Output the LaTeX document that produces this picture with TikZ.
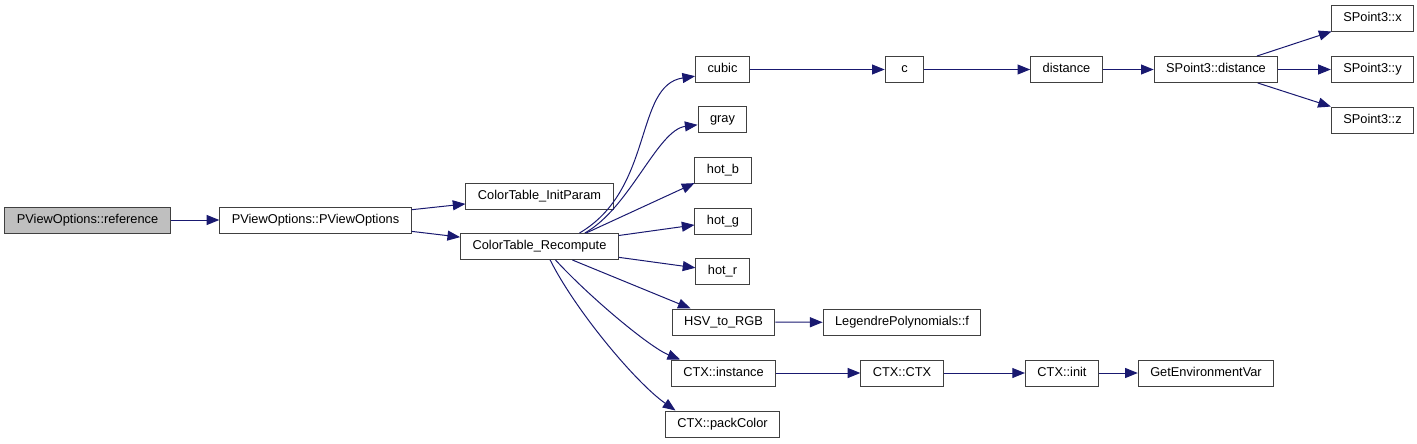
\documentclass[tikz,border=0pt]{standalone}
\usepackage{fontspec}
\setmainfont{Liberation Sans}
\usetikzlibrary{arrows.meta}
\definecolor{edgeblue}{HTML}{191970}
\definecolor{boxgray}{HTML}{404040}
\definecolor{rootgray}{HTML}{BFBFBF}

\begin{document}
\begin{tikzpicture}[x=0.75pt,y=-0.75pt,
  fn/.style={rectangle,draw=boxgray,fill=white,line width=0.75pt,inner xsep=9pt,inner ysep=0pt,
    text height=7pt,text depth=2pt,
    minimum height=19.5pt,minimum width=29pt,font=\fontsize{9.6}{11}\selectfont},
  root/.style={fn,fill=rootgray},
  call/.style={draw=edgeblue,line width=0.75pt,-{Triangle[length=9.5pt,width=7.5pt]}}]
\useasboundingbox (0,0) rectangle (1417,443);

% functions
\node[root] (ref) at (87.5,220) {PViewOptions::reference};
\node[fn] (pvo) at (315.5,220) {PViewOptions::PViewOptions};
\node[fn] (initp) at (539.5,196) {ColorTable\_InitParam};
\node[fn] (rcmp) at (539.5,246.5) {ColorTable\_Recompute};
\node[fn] (cubic) at (722.5,69.5) {cubic};
\node[fn] (gray) at (722.5,119.5) {gray};
\node[fn] (hotb) at (723,170) {hot\_b};
\node[fn] (hotg) at (723,221) {hot\_g};
\node[fn] (hotr) at (722.5,271.5) {hot\_r};
\node[fn] (hsv) at (723.5,322) {HSV\_to\_RGB};
\node[fn] (inst) at (723.5,373) {CTX::instance};
\node[fn] (pack) at (722.5,424) {CTX::packColor};
\node[fn] (c) at (904.5,69.5) {c};
\node[fn] (dist) at (1066.5,69.5) {distance};
\node[fn] (spd) at (1216,69.5) {SPoint3::distance};
\node[fn] (spx) at (1372.5,18) {SPoint3::x};
\node[fn] (spy) at (1372.5,69.5) {SPoint3::y};
\node[fn] (spz) at (1372.5,120) {SPoint3::z};
\node[fn] (leg) at (902,322.5) {LegendrePolynomials::f};
\node[fn] (ctx) at (902,373) {CTX::CTX};
\node[fn] (init) at (1062,373) {CTX::init};
\node[fn] (env) at (1206,373) {GetEnvironmentVar};

% calls
\draw[call] (ref) -- (pvo);
\draw[call] (pvo) -- (initp);
\draw[call] (pvo) -- (rcmp);
\draw[call] ([xshift=30pt]rcmp.north) .. controls +(75,-44) and +(-61,9) .. ([yshift=-5pt]cubic.west);
\draw[call] ([xshift=34pt]rcmp.north) .. controls +(45,-25) and +(-40,5) .. ([yshift=-4pt]gray.west);
\draw[call] ([xshift=35pt]rcmp.north) -- (hotb);
\draw[call] (rcmp) -- (hotg);
\draw[call] (rcmp) -- (hotr);
\draw[call] (rcmp) -- (hsv);
\draw[call] ([xshift=12pt]rcmp.south) .. controls +(35,38) and +(-30,-12) .. ([xshift=7pt]inst.north west);
\draw[call] ([xshift=8pt]rcmp.south) .. controls +(25,50) and +(-40,-28) .. ([xshift=8pt]pack.north west);
\draw[call] (cubic) -- (c);
\draw[call] (c) -- (dist);
\draw[call] (dist) -- (spd);
\draw[call] (spd) -- (spx);
\draw[call] (spd) -- (spy);
\draw[call] (spd) -- (spz);
\draw[call] (hsv) -- (leg);
\draw[call] (inst) -- (ctx);
\draw[call] (ctx) -- (init);
\draw[call] (init) -- (env);
\end{tikzpicture}
\end{document}
